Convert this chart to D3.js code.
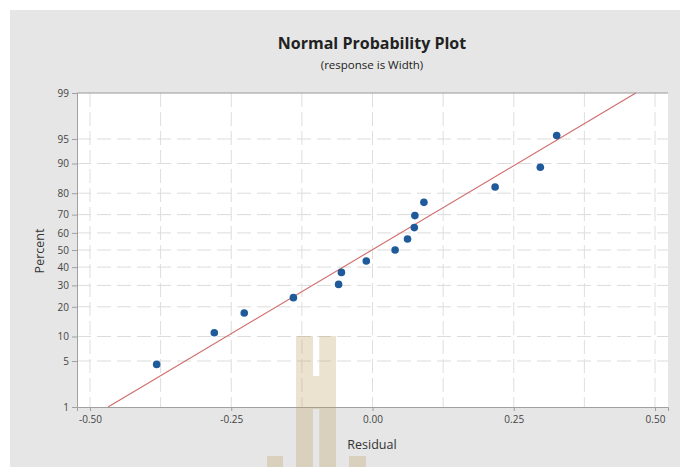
<!DOCTYPE html>
<html>
<head>
<meta charset="utf-8">
<script src="https://cdn.jsdelivr.net/npm/d3@7"></script>
<style>
  body { margin: 0; background: #fff; }
  text { font-family: "Open Sans", "Noto Sans", sans-serif; }
</style>
</head>
<body>
<svg id="chart" width="690" height="467"></svg>
<script>
// residuals (x) and their plotted percent (y)
var residuals = [-0.382, -0.280, -0.227, -0.140, -0.060, -0.055, -0.011, 0.040,
                 0.062, 0.074, 0.075, 0.091, 0.217, 0.297, 0.326];
var percents = [4.5, 11.0, 17.5, 24.0, 30.5, 37.0, 43.5, 50.0,
                56.5, 63.0, 69.5, 76.0, 82.5, 89.0, 95.5];
// fitted reference line end points
var lineResidual = [-0.468, 0.466];
var linePercent = [1, 99];
// axis ticks
var xTicks = [-0.5, -0.25, 0, 0.25, 0.5];
var xGrid = [-0.5, -0.375, -0.25, -0.125, 0, 0.125, 0.25, 0.375, 0.5];
var yTicks = [1, 5, 10, 20, 30, 40, 50, 60, 70, 80, 90, 95, 99];

// inverse normal cdf (Acklam)
function probit(p) {
  var a = [-39.69683028665376, 220.9460984245205, -275.9285104469687, 138.3577518672690, -30.66479806614716, 2.506628277459239];
  var b = [-54.47609879822406, 161.5858368580409, -155.6989798598866, 66.80131188771972, -13.28068155288572];
  var c = [-0.007784894002430293, -0.3223964580411365, -2.400758277161838, -2.549732539343734, 4.374664141464968, 2.938163982698783];
  var d = [0.007784695709041462, 0.3224671290700398, 2.445134137142996, 3.754408661907416];
  var pl = 0.02425, q, r;
  if (p < pl) {
    q = Math.sqrt(-2 * Math.log(p));
    return (((((c[0]*q+c[1])*q+c[2])*q+c[3])*q+c[4])*q+c[5]) / ((((d[0]*q+d[1])*q+d[2])*q+d[3])*q+1);
  }
  if (p > 1 - pl) {
    q = Math.sqrt(-2 * Math.log(1 - p));
    return -(((((c[0]*q+c[1])*q+c[2])*q+c[3])*q+c[4])*q+c[5]) / ((((d[0]*q+d[1])*q+d[2])*q+d[3])*q+1);
  }
  q = p - 0.5; r = q * q;
  return (((((a[0]*r+a[1])*r+a[2])*r+a[3])*r+a[4])*r+a[5])*q / (((((b[0]*r+b[1])*r+b[2])*r+b[3])*r+b[4])*r+1);
}

var plotLeft = 77, plotRight = 668, plotTop = 93, plotBottom = 407;

var svg = d3.select("#chart");

// grey panel
svg.append("rect").attr("x", 10).attr("y", 10).attr("width", 670).attr("height", 457)
  .attr("fill", "#e6e6e6");
svg.append("rect").attr("x", plotLeft).attr("y", plotTop)
  .attr("width", plotRight - plotLeft).attr("height", plotBottom - plotTop)
  .attr("fill", "#fff");

var x = d3.scaleLinear().domain([-0.523, 0.523]).range([plotLeft, plotRight]);
var zScale = d3.scaleLinear().domain([probit(0.01), probit(0.99)]).range([plotBottom, plotTop]);
var y = function (pct) { return zScale(probit(pct / 100)); };

// hyphen minus like the original
var fmt = d3.formatLocale({ decimal: ".", thousands: ",", grouping: [3], currency: ["", ""], minus: "-" }).format(".2f");

// grid
svg.append("g").selectAll("line").data(xGrid).enter().append("line")
  .attr("x1", function (d) { return x(d); }).attr("x2", function (d) { return x(d); })
  .attr("y1", plotTop).attr("y2", plotBottom)
  .attr("stroke", "#dedede").attr("stroke-dasharray", "14,5");
svg.append("g").selectAll("line").data(yTicks.slice(1, -1)).enter().append("line")
  .attr("x1", plotLeft).attr("x2", plotRight)
  .attr("y1", function (d) { return y(d); }).attr("y2", function (d) { return y(d); })
  .attr("stroke", "#dcdcdc").attr("stroke-dasharray", "14,6");

// axes
var xAxis = svg.append("g").attr("transform", "translate(0," + plotBottom + ")")
  .call(d3.axisBottom(x).tickValues(xTicks).tickFormat(fmt).tickSize(4).tickPadding(5));
var yAxis = svg.append("g").attr("transform", "translate(" + plotLeft + ",0)")
  .call(d3.axisLeft(zScale).tickValues(yTicks.map(function (d) { return probit(d / 100); }))
    .tickFormat(function (d, i) { return yTicks[i]; }).tickSize(5).tickPadding(3));
[xAxis, yAxis].forEach(function (g) {
  g.select(".domain").attr("stroke", "#a0a0a0");
  g.selectAll(".tick line").attr("stroke", "#a0a0a0");
  g.selectAll(".tick text").attr("fill", "#444").style("font-size", "10px")
    .style("font-family", "'Open Sans', sans-serif");
});
svg.append("line").attr("x1", plotLeft).attr("x2", plotRight).attr("y1", plotTop).attr("y2", plotTop)
  .attr("stroke", "#999");

// fitted line
svg.append("line")
  .attr("x1", x(lineResidual[0])).attr("y1", y(linePercent[0]))
  .attr("x2", x(lineResidual[1])).attr("y2", y(linePercent[1]))
  .attr("stroke", "#d06a6a").attr("stroke-width", 1.1);

// points
svg.append("g").selectAll("circle").data(residuals).enter().append("circle")
  .attr("cx", function (d) { return x(d); })
  .attr("cy", function (d, i) { return y(percents[i]); })
  .attr("r", 3.8)
  .attr("fill", "#1f5a9a");

// titles
svg.append("text").attr("x", 372).attr("y", 49).attr("text-anchor", "middle")
  .style("font-size", "16px").style("font-weight", "bold").attr("fill", "#222")
  .text("Normal Probability Plot");
svg.append("text").attr("x", 372).attr("y", 69).attr("text-anchor", "middle")
  .style("font-size", "11.5px").attr("fill", "#222")
  .text("(response is Width)");
svg.append("text").attr("x", 372).attr("y", 449).attr("text-anchor", "middle")
  .style("font-size", "12.5px").attr("fill", "#333")
  .text("Residual");
svg.append("text").attr("transform", "translate(44,251) rotate(-90)").attr("text-anchor", "middle")
  .style("font-size", "12.5px").attr("fill", "#333")
  .text("Percent");

// watermark
var wm = svg.append("g").attr("fill", "rgb(190,160,100)").attr("fill-opacity", 0.3);
wm.append("path").attr("d", "M296,336H313V376H319.3V336H336V467H319.3V409H313V467H296Z");
wm.append("rect").attr("x", 267).attr("y", 456).attr("width", 16).attr("height", 11);
wm.append("rect").attr("x", 349).attr("y", 456).attr("width", 17).attr("height", 11);
</script>
</body>
</html>
